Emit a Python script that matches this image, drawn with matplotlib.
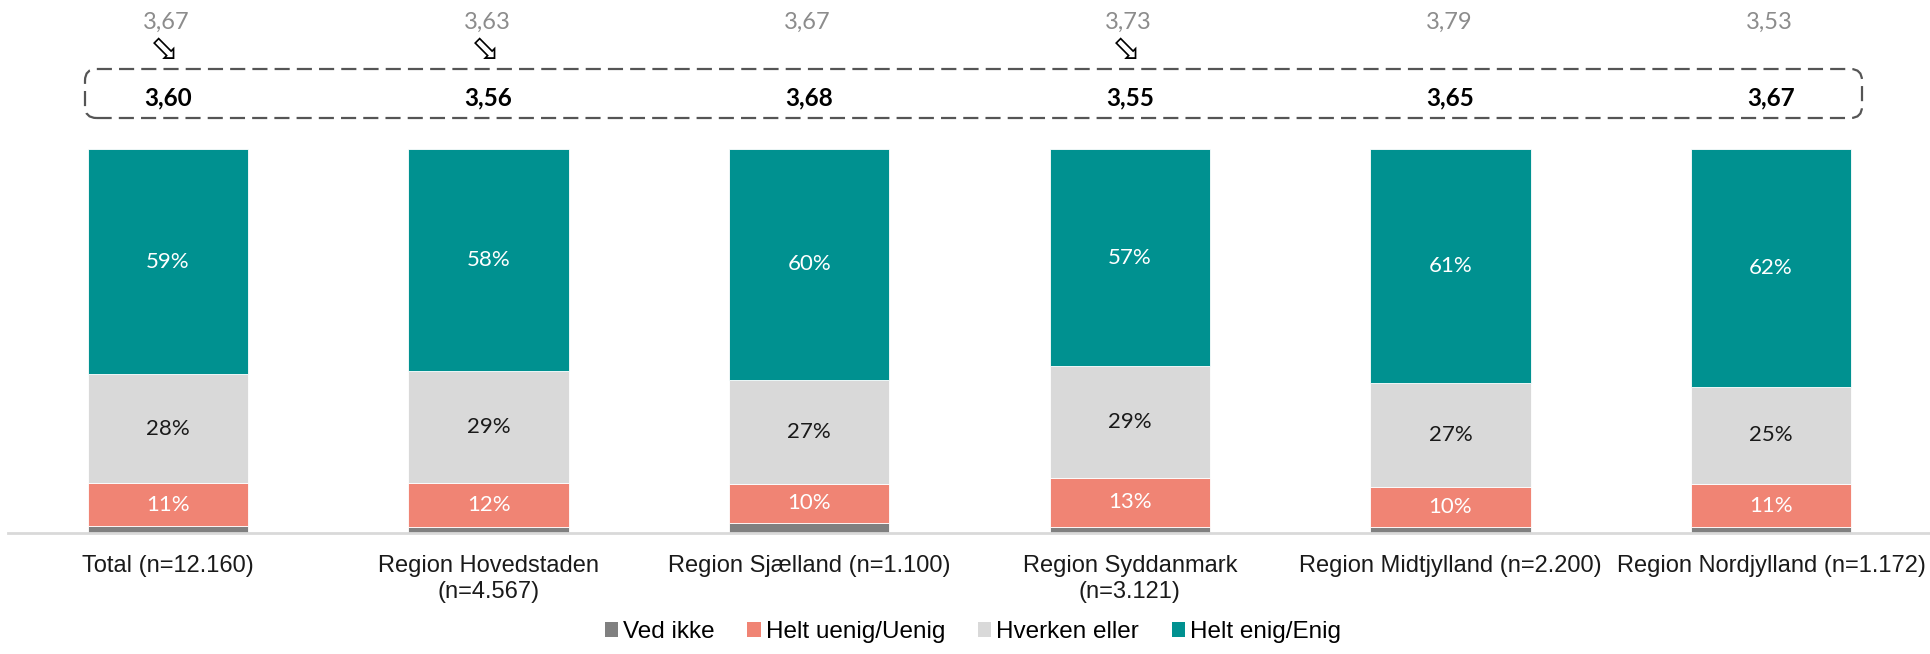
import matplotlib
matplotlib.use("Agg")
import matplotlib.pyplot as plt
from matplotlib.patches import FancyBboxPatch, Patch
import numpy as np

categories = ["Total (n=12.160)", "Region Hovedstaden\n(n=4.567)", "Region Sjælland (n=1.100)",
              "Region Syddanmark\n(n=3.121)", "Region Midtjylland (n=2.200)", "Region Nordjylland (n=1.172)"]
ved_ikke = [1.8, 1.5, 2.6, 1.6, 1.6, 1.6]
uenig = [11.2, 11.6, 10.2, 12.8, 10.4, 11.1]
hverken = [28.3, 29.2, 27.1, 29.0, 27.0, 25.4]
enig = [58.7, 57.7, 60.1, 56.6, 61.0, 61.9]
prev_avg = ["3,67", "3,63", "3,67", "3,73", "3,79", "3,53"]
curr_avg = ["3,60", "3,56", "3,68", "3,55", "3,65", "3,67"]
arrow_shown = [True, True, False, True, False, False]
series_names = ["Ved ikke", "Helt uenig/Uenig", "Hverken eller", "Helt enig/Enig"]

colors = ["#808080", "#F08474", "#D9D9D9", "#009190"]
text_colors = [None, "white", "#1a1a1a", "white"]
num_font = "Lato"

W, H = 1930, 654
fig = plt.figure(figsize=(W / 100, H / 100), dpi=100)
ax = fig.add_axes([8 / W, (H - 533) / H, 1 - 8 / W, (533 - 149) / H])
x = np.arange(len(categories))
ax.set_xlim(-0.499, 5.496)
ax.set_ylim(0, 100)

bottom = np.zeros(len(categories))
for vals, col, tc in zip([ved_ikke, uenig, hverken, enig], colors, text_colors):
    vals = np.array(vals, dtype=float)
    ax.bar(x, vals, bottom=bottom, width=0.5, color=col, edgecolor="white", linewidth=0.6)
    if tc is not None:
        for xi, b, v in zip(x, bottom, vals):
            ax.text(xi, b + v / 2, f"{int(round(v))}%", ha="center", va="center", color=tc,
                    fontsize=16, family=num_font)
    bottom += vals

for s in ["top", "right", "left"]:
    ax.spines[s].set_visible(False)
ax.spines["bottom"].set_color("#D9D9D9")
ax.spines["bottom"].set_linewidth(2)
ax.set_yticks([])
ax.set_xticks(x)
ax.set_xticklabels(categories, fontsize=17, family="Liberation Sans", color="#1a1a1a",
                   linespacing=1.22)
ax.tick_params(axis="x", length=0, pad=16)

# annotations above bars (in data coordinates; 3.84 px per %)
ppu = (533 - 149) / 100.0
def yd(py):
    return (533 - py) / ppu

for xi, p, c, a in zip(x, prev_avg, curr_avg, arrow_shown):
    ax.text(xi - 0.005, yd(22), p, ha="center", va="center", color="#8C8C8C",
            fontsize=17, family=num_font, clip_on=False)
    ax.text(xi, yd(98), c, ha="center", va="center", color="black",
            fontsize=17.5, family=num_font, fontweight="bold", clip_on=False)
    if a:
        ax.text(xi - 0.01, yd(50), "\u2B02", ha="center", va="center", color="black",
                fontsize=25, family="DejaVu Sans", clip_on=False)

box = FancyBboxPatch((85 / W, (H - 118) / H), (1862 - 85) / W, (118 - 69) / H,
                     boxstyle="round,pad=0,rounding_size=0.006", mutation_aspect=W / H,
                     transform=fig.transFigure, fill=False, edgecolor="#555555",
                     linewidth=1.6, linestyle=(0, (6.8, 3.2)))
fig.patches.append(box)

handles = [Patch(facecolor=c, edgecolor="none") for c in colors]
fig.legend(handles, series_names, loc="center", bbox_to_anchor=(0.504, (H - 632) / H),
           ncol=4, frameon=False, handlelength=0.55, handleheight=0.55, handletextpad=0.2,
           columnspacing=1.35, prop={"family": "Liberation Sans", "size": 17.5})

fig.savefig("out.png", dpi=100)
